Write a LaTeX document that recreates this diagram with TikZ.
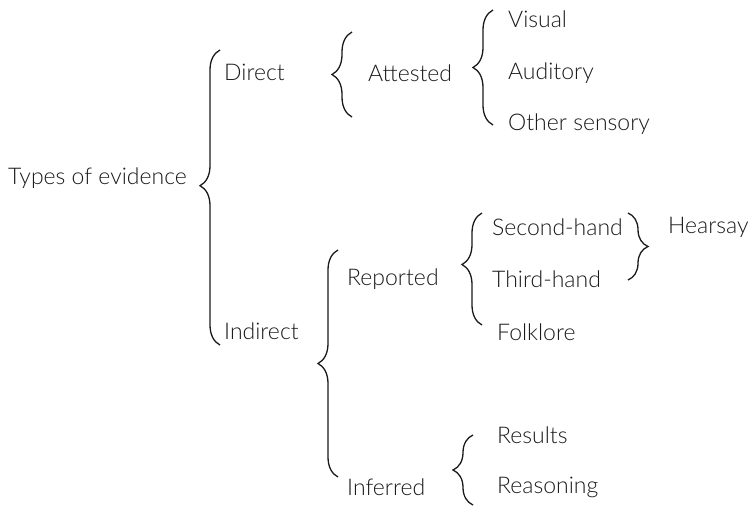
\documentclass[tikz,border=0pt]{standalone}
\usepackage{fontspec}
\setmainfont{Lato Light}
\usepackage{xcolor}
\usepackage{tikz}
\usetikzlibrary{decorations.pathreplacing,positioning}
\definecolor{inkgray}{HTML}{1A1A1A}
\tikzset{
  item/.style={anchor=west, inner sep=0pt, font=\fontsize{23}{25}\selectfont,
               text=inkgray},
  brace/.style={decorate, decoration={brace, amplitude=20pt, aspect=#1},
                draw=inkgray, line width=1.3pt},
  brace/.default=0.5
}
\begin{document}
\begin{tikzpicture}[x=1pt, y=-1pt]
    \useasboundingbox (0,0) rectangle (752,506);

    % Level 0
    \node[item] (types) at (8,178) {Types of evidence};

    % Level 1
    \node[item] (direct)   at (224,72)  {Direct};
    \node[item] (indirect) at (224,331) {Indirect};
    \draw[brace=0.54] (220,345) -- (220,50);

    % Direct branch
    \node[item] (attested) at (368,73) {Attested};
    \draw[brace] (352,117) -- (352,32);

    \node[item] (visual)   at (508,19)  {Visual};
    \node[item] (auditory) at (508,73)  {Auditory};
    \node[item] (othersen) at (508,124) {Other sensory};
    \draw[brace] (493,125) -- (493,10);

    % Indirect branch
    \node[item] (reported) at (347,279) {Reported};
    \node[item] (inferred) at (347,487) {Inferred};
    \draw[brace] (338,477) -- (338,250);

    \node[item] (second)   at (492,227) {Second-hand};
    \node[item] (third)    at (492,279) {Third-hand};
    \node[item] (folklore) at (497,332) {Folklore};
    \draw[brace=0.54] (482,325) -- (482,213);

    % Hearsay
    \node[item] (hearsay)  at (668,227) {Hearsay};
    \draw[brace] (628,213) -- (628,280);

    \node[item] (results)   at (497,435) {Results};
    \node[item] (reasoning) at (497,487) {Reasoning};
    \draw[brace] (473,505) -- (473,435);
  \end{tikzpicture}
\end{document}
